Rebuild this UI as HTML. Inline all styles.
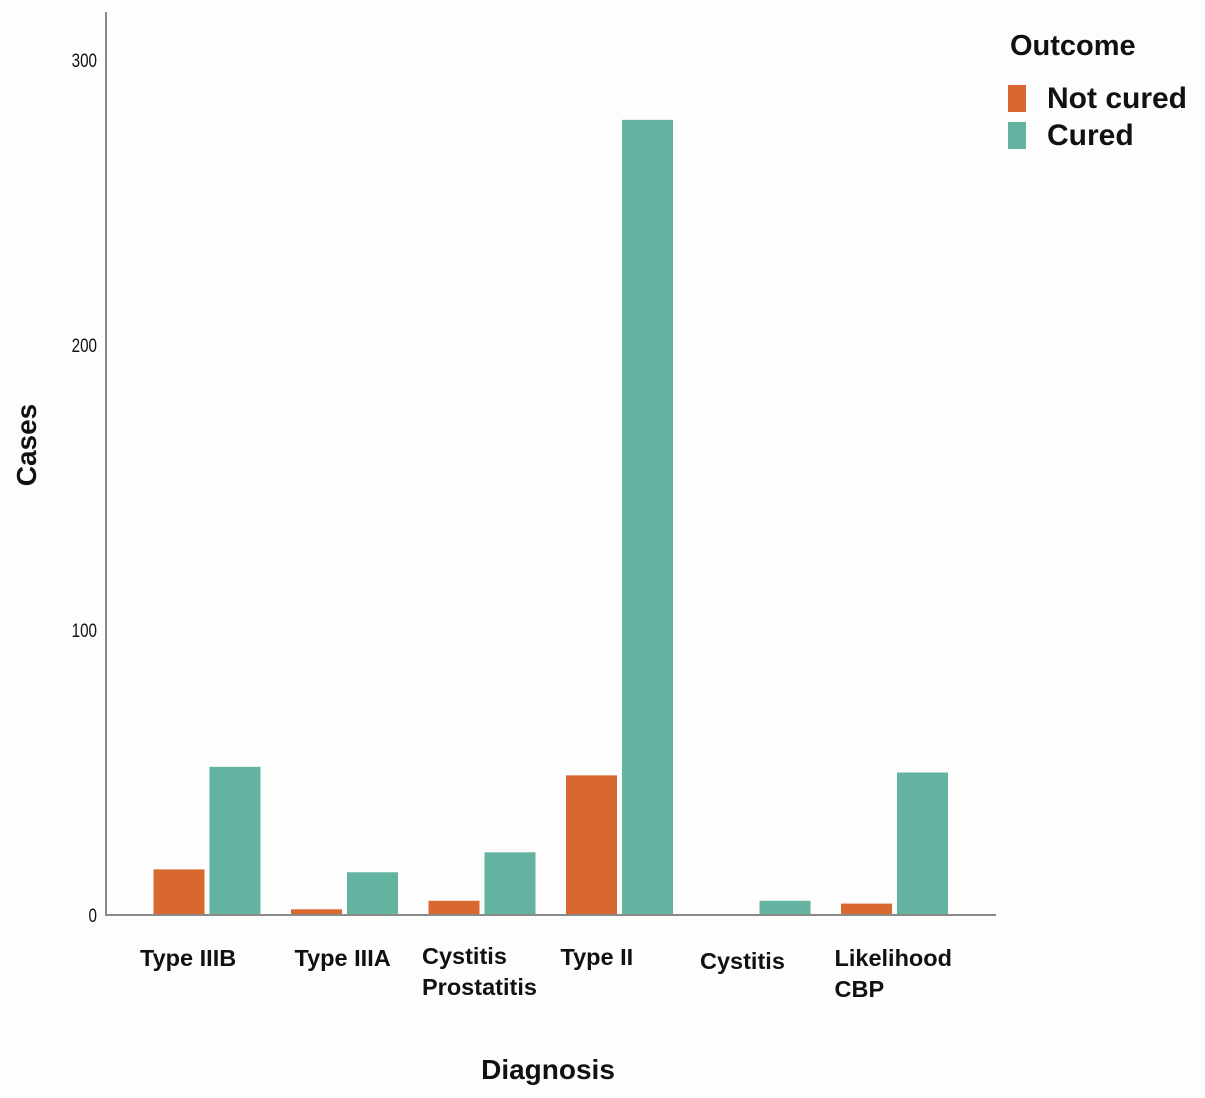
<!DOCTYPE html>
<html><head><meta charset="utf-8"><style>
html,body{margin:0;padding:0;background:#fdfdfd;}
svg{display:block;}
text{font-family:"Liberation Sans",sans-serif;fill:#111;}
</style></head><body>
<svg id="chart" width="1205" height="1098" xmlns="http://www.w3.org/2000/svg">
<rect width="1205" height="1098" fill="#fdfdfd"/>
<g id="bars"></g>
<line x1="106" y1="12" x2="106" y2="915" stroke="#8a8a8a" stroke-width="2"/>
<line x1="105" y1="915" x2="996" y2="915" stroke="#8a8a8a" stroke-width="2"/>
<g id="yticks"></g>
<g id="xlabels"></g>
<text transform="translate(36,445) rotate(-90)" text-anchor="middle" font-size="28" font-weight="bold">Cases</text>
<text x="548" y="1079" text-anchor="middle" font-size="28" font-weight="bold">Diagnosis</text>
<g>
<text x="1010" y="55" font-size="29" font-weight="bold">Outcome</text>
<rect x="1008" y="85" width="18" height="27" fill="#d96830"/>
<text x="1047" y="108" font-size="30" font-weight="bold">Not cured</text>
<rect x="1008" y="122" width="18" height="27" fill="#64b3a0"/>
<text x="1047" y="145" font-size="30" font-weight="bold">Cured</text>
</g>
</svg>
<script>
const categories = [["Type IIIB"],["Type IIIA"],["Cystitis","Prostatitis"],["Type II"],["Cystitis"],["Likelihood","CBP"]];
const notCured = [16, 2, 5, 49, 0, 4];
const cured = [52, 15, 22, 279, 5, 50];
const yTicks = [0, 100, 200, 300];

const NS = "http://www.w3.org/2000/svg";
const y = v => 915 - v * 2.85;
const xCenter = i => 207 + i * 137.5;
const labelShift = [-67, -50, -60, -59, -57, -60];
const labelDy = [0, 0, -2, -1, 3, 0];
const bw = 51, gap = 5;
const bars = document.getElementById('bars');
function mk(tag, attrs, parent){const e=document.createElementNS(NS,tag);for(const k in attrs)e.setAttribute(k,attrs[k]);parent.appendChild(e);return e;}
categories.forEach((c,i)=>{
  const cx = xCenter(i);
  if (notCured[i] > 0) {
    const r = mk('rect',{x:cx-gap/2-bw,y:y(notCured[i]),width:bw,height:915-y(notCured[i]),fill:'#d96830'},bars);
    
    
  }
  const r2 = mk('rect',{x:cx+gap/2,y:y(cured[i]),width:bw,height:915-y(cured[i]),fill:'#64b3a0'},bars);
  
  
  const lx = cx + labelShift[i];
  const t = mk('text',{x:lx,y:966+labelDy[i],'font-size':23.5,'font-weight':'bold'},document.getElementById('xlabels'));
  
  
  c.forEach((line,j)=>{const ts=mk('tspan',{x:lx,dy:j?31:0},t);ts.textContent=line;});
});
const yt=document.getElementById('yticks');
yTicks.forEach(v=>{
  const t=mk('text',{x:97,y:y(v)+7,'text-anchor':'end','font-size':19,fill:'#333',transform:`translate(97,0) scale(0.8,1) translate(-97,0)`},yt);
  
  
  t.textContent=v;
});
</script>
</body></html>
